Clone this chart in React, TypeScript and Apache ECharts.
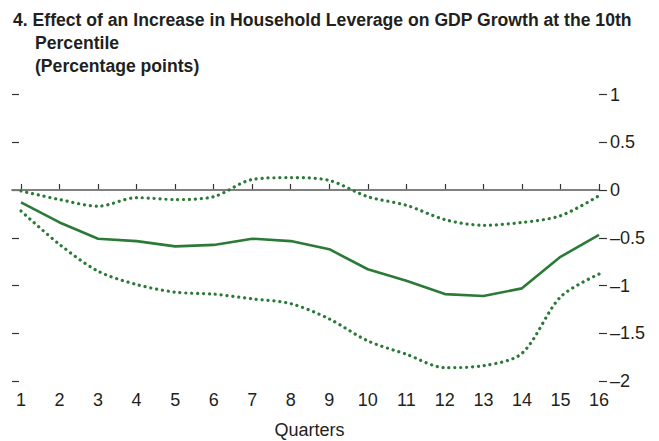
import React, { useEffect, useRef } from "react";
import * as echarts from "echarts";

const quarters = [1, 2, 3, 4, 5, 6, 7, 8, 9, 10, 11, 12, 13, 14, 15, 16];
const estimate = [-0.13, -0.34, -0.51, -0.535, -0.59, -0.575, -0.51, -0.535, -0.62, -0.83, -0.95, -1.09, -1.11, -1.03, -0.7, -0.47];
const upperBand = [-0.01, -0.1, -0.17, -0.08, -0.1, -0.07, 0.11, 0.13, 0.1, -0.07, -0.16, -0.31, -0.37, -0.34, -0.27, -0.06];
const lowerBand = [-0.22, -0.57, -0.85, -0.99, -1.07, -1.09, -1.14, -1.19, -1.35, -1.58, -1.72, -1.86, -1.84, -1.71, -1.12, -0.88];
const titleLines = [
  "4. Effect of an Increase in Household Leverage on GDP Growth at the 10th",
  "Percentile",
  "(Percentage points)",
];
const xAxisName = "Quarters";

const GREEN = "#2b7a37";
const FONT = "'Liberation Sans', Arial, sans-serif";

export default function App() {
  const ref = useRef<HTMLDivElement>(null);
  useEffect(() => {
    if (!ref.current) return;
    const chart = echarts.init(ref.current, undefined, { renderer: "svg" });
    const pairs = (arr: number[]) => quarters.map((q, i) => [q, arr[i]]);
    const fmt = (v: number) => (v < 0 ? "\u2013" + Math.abs(v) : String(v));
    chart.setOption({
      animation: false,
      backgroundColor: "#ffffff",
      grid: { left: 12, right: 60, top: 94.5, bottom: 60 },
      xAxis: {
        type: "value",
        min: 0.766,
        max: 16,
        axisLine: { show: true, lineStyle: { color: "#333333", width: 1.5 } },
        axisTick: {
          show: true,
          inside: true,
          length: 6,
          customValues: quarters,
          lineStyle: { color: "#333333", width: 1.2 },
        },
        axisLabel: {
          customValues: quarters,
          margin: 10,
          fontSize: 18,
          fontFamily: FONT,
          color: "#231f20",
        },
        splitLine: { show: false },
      },
      yAxis: [
        {
          type: "value",
          position: "right",
          min: -2,
          max: 1,
          interval: 0.5,
          axisLine: { show: false },
          axisTick: { show: true, inside: false, length: 8, lineStyle: { color: "#333333", width: 1.2 } },
          axisLabel: { margin: 11, fontSize: 18, fontFamily: FONT, color: "#231f20", formatter: fmt },
          splitLine: { show: false },
        },
        {
          type: "value",
          position: "left",
          min: -2,
          max: 1,
          interval: 0.5,
          axisLine: { show: false },
          axisTick: { show: true, inside: true, length: 7, lineStyle: { color: "#333333", width: 1.2 } },
          axisLabel: { show: false },
          splitLine: { show: false },
        },
      ],
      series: [
        {
          type: "line",
          data: pairs(estimate),
          symbol: "none",
          lineStyle: { color: GREEN, width: 2.6 },
          z: 3,
          markLine: {
            silent: true,
            symbol: "none",
            label: { show: false },
            lineStyle: { color: "#8a8a8a", width: 1.5, type: "solid" },
            data: [{ yAxis: 0 }],
            z: 1,
          },
        },
        {
          type: "line",
          data: pairs(upperBand),
          symbol: "none",
          smooth: 0.3,
          lineStyle: { color: GREEN, width: 3.2, type: [0.1, 5.8], cap: "round" },
          z: 3,
        },
        {
          type: "line",
          data: pairs(lowerBand),
          symbol: "none",
          smooth: 0.3,
          lineStyle: { color: GREEN, width: 3.2, type: [0.1, 5.8], cap: "round" },
          z: 3,
        },
      ],
      graphic: [
        {
          type: "text",
          left: 13,
          top: 11,
          style: { text: titleLines[0], font: `bold 17.6px ${FONT}`, fill: "#231f20" },
        },
        {
          type: "text",
          left: 35,
          top: 34,
          style: { text: titleLines[1], font: `bold 17.6px ${FONT}`, fill: "#231f20" },
        },
        {
          type: "text",
          left: 35,
          top: 57,
          style: { text: titleLines[2], font: `bold 17.6px ${FONT}`, fill: "#231f20" },
        },
        {
          type: "text",
          x: 309.5,
          y: 420,
          style: { text: xAxisName, font: `18px ${FONT}`, lineHeight: 19, fill: "#231f20", align: "center", verticalAlign: "top" },
        },
      ],
    });
    return () => chart.dispose();
  }, []);
  return <div ref={ref} style={{ position: "fixed", left: 0, top: 0, width: 659, height: 441 }} />;
}
